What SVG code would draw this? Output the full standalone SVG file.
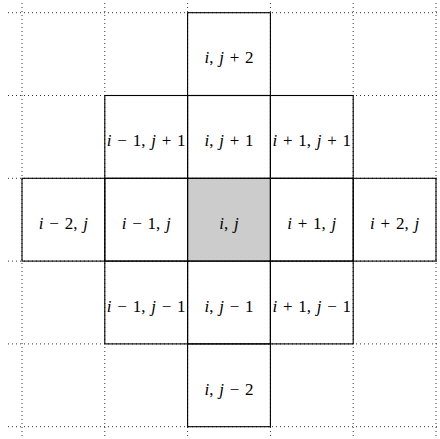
<svg xmlns="http://www.w3.org/2000/svg" width="440" height="439" viewBox="0 0 440 439">
<style>
.grid{stroke:#333;stroke-width:1;stroke-dasharray:1 3;fill:none}
.cell{fill:none;stroke:#000;stroke-width:1.1}
.shade{fill:#cccccc;stroke:#000;stroke-width:1.1}
text{font-family:"Liberation Serif","Times New Roman",serif;font-size:17px;text-anchor:middle;word-spacing:1.5px;fill:#000}
.v{font-style:italic}
</style>
<rect width="440" height="439" fill="#fff"/>
<g id="grid">
<path class="grid" d="M8 12.7H440M8 95.5H440M8 178.3H440M8 261.1H440M8 343.9H440M8 426.7H440"/>
<path class="grid" d="M22 3V439M104.8 3V439M187.6 3V439M270.4 3V439M353.2 3V439M436 3V439"/>
</g>
<g id="cell-i-j"><rect class="shade" x="187.6" y="178.3" width="82.8" height="82.8"/><text x="229" y="229"><tspan class="v">i</tspan>, <tspan class="v">j</tspan></text></g>
<g id="cell-i-jp2"><rect class="cell" x="187.6" y="12.7" width="82.8" height="82.8"/><text x="229" y="63.3"><tspan class="v">i</tspan>, <tspan class="v">j</tspan> + 2</text></g>
<g id="cell-im1-jp1"><rect class="cell" x="104.8" y="95.5" width="82.8" height="82.8"/><text x="146.2" y="146.1"><tspan class="v">i</tspan> − 1, <tspan class="v">j</tspan> + 1</text></g>
<g id="cell-i-jp1"><rect class="cell" x="187.6" y="95.5" width="82.8" height="82.8"/><text x="229" y="146.1"><tspan class="v">i</tspan>, <tspan class="v">j</tspan> + 1</text></g>
<g id="cell-ip1-jp1"><rect class="cell" x="270.4" y="95.5" width="82.8" height="82.8"/><text x="311.8" y="146.1"><tspan class="v">i</tspan> + 1, <tspan class="v">j</tspan> + 1</text></g>
<g id="cell-im2-j"><rect class="cell" x="22" y="178.3" width="82.8" height="82.8"/><text x="63.4" y="229"><tspan class="v">i</tspan> − 2, <tspan class="v">j</tspan></text></g>
<g id="cell-im1-j"><rect class="cell" x="104.8" y="178.3" width="82.8" height="82.8"/><text x="146.2" y="229"><tspan class="v">i</tspan> − 1, <tspan class="v">j</tspan></text></g>
<g id="cell-ip1-j"><rect class="cell" x="270.4" y="178.3" width="82.8" height="82.8"/><text x="311.8" y="229"><tspan class="v">i</tspan> + 1, <tspan class="v">j</tspan></text></g>
<g id="cell-ip2-j"><rect class="cell" x="353.2" y="178.3" width="82.8" height="82.8"/><text x="394.6" y="229"><tspan class="v">i</tspan> + 2, <tspan class="v">j</tspan></text></g>
<g id="cell-im1-jm1"><rect class="cell" x="104.8" y="261.1" width="82.8" height="82.8"/><text x="146.2" y="311.8"><tspan class="v">i</tspan> − 1, <tspan class="v">j</tspan> − 1</text></g>
<g id="cell-i-jm1"><rect class="cell" x="187.6" y="261.1" width="82.8" height="82.8"/><text x="229" y="311.8"><tspan class="v">i</tspan>, <tspan class="v">j</tspan> − 1</text></g>
<g id="cell-ip1-jm1"><rect class="cell" x="270.4" y="261.1" width="82.8" height="82.8"/><text x="311.8" y="311.8"><tspan class="v">i</tspan> + 1, <tspan class="v">j</tspan> − 1</text></g>
<g id="cell-i-jm2"><rect class="cell" x="187.6" y="343.9" width="82.8" height="82.8"/><text x="229" y="394.6"><tspan class="v">i</tspan>, <tspan class="v">j</tspan> − 2</text></g>
<g id="connectors"/>
</svg>
